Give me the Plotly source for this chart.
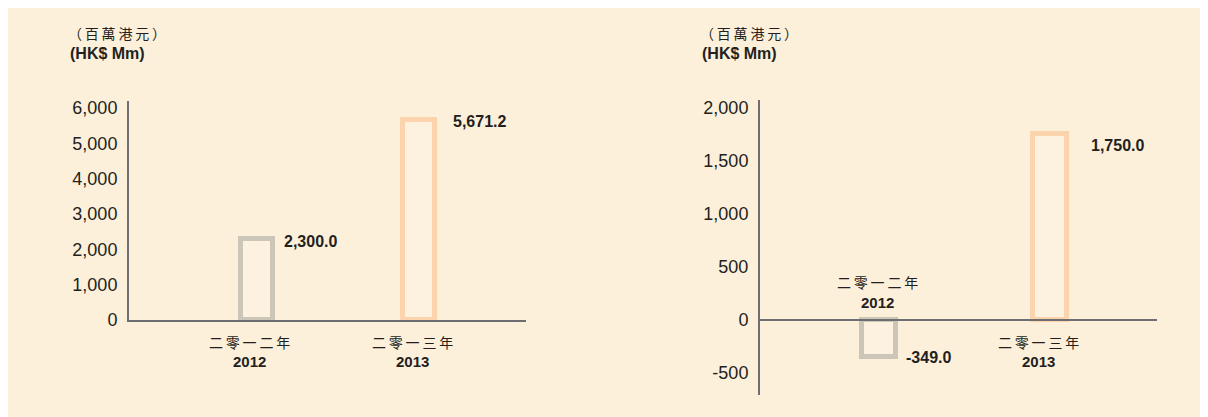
import plotly.graph_objects as go

W, H = 1200, 409
OFF = 8  # page body margin

categories = ["2012", "2013"]
cat_zh = ["二零一二年", "二零一三年"]
left_values = [2300.0, 5671.2]
right_values = [-349.0, 1750.0]
left_ticks = [0, 1000, 2000, 3000, 4000, 5000, 6000]
right_ticks = [-500, 0, 500, 1000, 1500, 2000]
unit_zh = "（百萬港元）"
unit_en = "(HK$ Mm)"

BG = "#FDF0DB"
AX = "#6D6E71"
TXT = "#231F20"
BAR_LINE = ["#CBC6B8", "#FBD3AD"]
BAR_FILL = "#FDF2E0"


def px(x):
    return (x - OFF) / W


def py(y):
    return 1 - (y - OFF) / H


def fmt(v):
    return f"{v:,.1f}"


def spaced(s):
    return "\u2009".join(s)


fig = go.Figure()

fig.add_trace(go.Bar(
    x=categories, y=left_values, width=0.2,
    marker=dict(color=BAR_FILL, line=dict(color=BAR_LINE, width=5)),
    xaxis="x", yaxis="y", hoverinfo="skip", showlegend=False,
))
fig.add_trace(go.Bar(
    x=categories, y=right_values, width=0.2,
    marker=dict(color=BAR_FILL, line=dict(color=BAR_LINE, width=5)),
    xaxis="x2", yaxis="y2", hoverinfo="skip", showlegend=False,
))

tickfont = dict(family="Liberation Sans, Arial, sans-serif", size=18, color=TXT)

fig.update_layout(
    template="none",
    width=W, height=H,
    autosize=False,
    margin=dict(l=0, r=0, t=0, b=0, pad=0),
    paper_bgcolor=BG,
    plot_bgcolor="rgba(0,0,0,0)",
    bargap=0,
    xaxis=dict(domain=[px(129), px(526)], range=[-0.789, 1.661], type="category",
               showticklabels=False, showline=True, linecolor=AX, linewidth=2,
               showgrid=False, zeroline=False, ticks="", anchor="y", automargin=False),
    yaxis=dict(domain=[py(320), py(101)], range=[0, 6200], tickvals=left_ticks,
               ticktext=[f"{t:,}" for t in left_ticks], tickfont=tickfont,
               showline=True, linecolor=AX, linewidth=2, showgrid=False,
               zeroline=False, ticks="", ticklabelstandoff=6, anchor="x", automargin=False),
    xaxis2=dict(domain=[px(760), px(1157)], range=[-0.696, 1.626], type="category",
                showticklabels=False, showline=True, linecolor=AX, linewidth=2,
                showgrid=False, zeroline=False, ticks="", anchor="free",
                position=py(320), automargin=False),
    yaxis2=dict(domain=[py(395), py(100)], range=[-707, 2075], tickvals=right_ticks,
                ticktext=[f"{t:,}" for t in right_ticks], tickfont=tickfont,
                showline=True, linecolor=AX, linewidth=2, showgrid=False,
                zeroline=False, ticks="", ticklabelstandoff=6, anchor="x2", automargin=False),
)

ann = []
bold = "Liberation Sans, Arial, sans-serif"
cjk = "Noto Sans CJK TC, sans-serif"

# unit titles
for xl in (69, 701):
    ann.append(dict(text=spaced(unit_zh), xref="paper", yref="paper", x=px(xl - 3), y=py(33),
                    xanchor="left", yanchor="middle", showarrow=False,
                    font=dict(family=cjk, size=14, color=TXT)))
    ann.append(dict(text=f"<b>{unit_en}</b>", xref="paper", yref="paper", x=px(xl - 1), y=py(53),
                    xanchor="left", yanchor="middle", showarrow=False,
                    font=dict(family=bold, size=16, color=TXT)))

# value labels (category index used for position on category axis)
left_shift = [(25, -3), (32, -2)]
right_shift = [(25, 0), (39, -11)]
for i, (v, (dx, dy)) in enumerate(zip(left_values, left_shift)):
    ann.append(dict(text=f"<b>{fmt(v)}</b>", xref="x", yref="y", x=i, y=v,
                    xshift=dx, yshift=dy, xanchor="left", yanchor="middle",
                    showarrow=False, font=dict(family=bold, size=16, color=TXT)))
for i, (v, (dx, dy)) in enumerate(zip(right_values, right_shift)):
    ann.append(dict(text=f"<b>{fmt(v)}</b>", xref="x2", yref="y2", x=i, y=v,
                    xshift=dx, yshift=dy, xanchor="left", yanchor="middle",
                    showarrow=False, font=dict(family=bold, size=16, color=TXT)))

# category labels
left_cat_pos = [(-7, 342, 361), (-6, 342, 361)]
right_cat_pos = [(-2, 282, 302), (-11, 342, 361)]
for xr, cats_pos in (("x", left_cat_pos), ("x2", right_cat_pos)):
    for i, (cat, zh, (dx, yz, ye)) in enumerate(zip(categories, cat_zh, cats_pos)):
        ann.append(dict(text=spaced(zh), xref=xr, yref="paper", x=i, y=py(yz), xshift=dx,
                        xanchor="center", yanchor="middle", showarrow=False,
                        font=dict(family=cjk, size=14, color=TXT)))
        ann.append(dict(text=f"<b>{cat}</b>", xref=xr, yref="paper", x=i, y=py(ye), xshift=dx,
                        xanchor="center", yanchor="middle", showarrow=False,
                        font=dict(family=bold, size=15, color=TXT)))

fig.update_layout(annotations=ann)

fig.write_html("out.html")
